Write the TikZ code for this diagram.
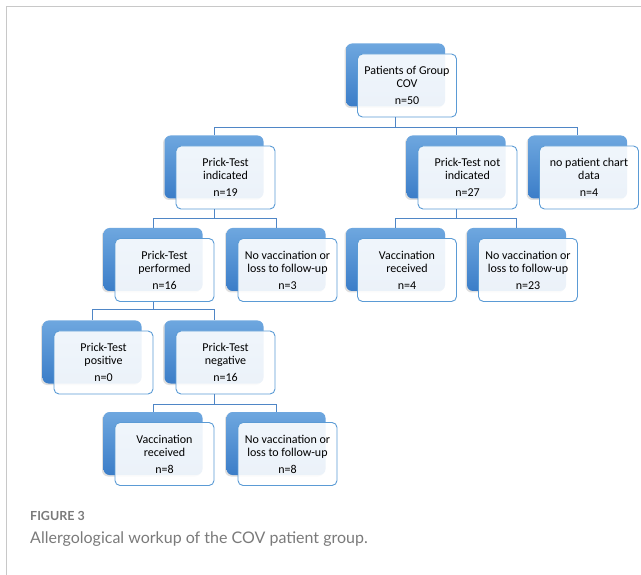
\documentclass[tikz,border=0pt]{standalone}
\usepackage{fontspec}
\setmainfont{Carlito}
\newfontfamily\capfont{Lato}
\usetikzlibrary{shadows}

\definecolor{boxblue}{HTML}{5B9BD5}
\definecolor{backtop}{HTML}{6EA7DF}
\definecolor{backbot}{HTML}{3B7DC8}
\definecolor{linkblue}{HTML}{4F86C6}
\definecolor{framegrey}{HTML}{C8C8C8}
\definecolor{capgrey}{HTML}{7A7A7A}

\tikzset{
  backbox/.style={rounded corners=6pt, minimum width=99pt, minimum height=63pt,
    top color=backtop, bottom color=backbot, draw=none,
    drop shadow={shadow xshift=-1.5pt, shadow yshift=-1.5pt, opacity=.25}},
  frontbox/.style={draw=boxblue, line width=0.9pt, rounded corners=5pt,
    minimum width=99pt, minimum height=63pt, fill=white, fill opacity=.9,
    text opacity=1, align=center, inner sep=2pt,
    font=\fontsize{12}{13}\selectfont},
  link/.style={draw=linkblue, line width=0.9pt}
}

% back box and front box, named #1b and #1
\newcommand{\flowbox}[4]{%
  \node[backbox] (#1b) at (#2-11.5,#3-10.5) {};
  \node[frontbox] (#1) at (#2,#3) {#4};
}

\begin{document}
\begin{tikzpicture}[x=1pt,y=-1pt]
  \useasboundingbox (0,0) rectangle (641,575);
  \draw[framegrey, line width=0.9pt] (6,575) -- (6,6) -- (641,6);

  % boxes
  \flowbox{root}{407}{85.5}{Patients of Group\\COV\\[4pt]n=50}
  \flowbox{pti}{225.5}{177.5}{Prick-Test\\indicated\\[4pt]n=19}
  \flowbox{ptni}{467.5}{177.5}{Prick-Test not\\indicated\\[4pt]n=27}
  \flowbox{chart}{589}{177.5}{no patient chart\\data\\[4pt]n=4}
  \flowbox{ptdone}{164.5}{270}{Prick-Test\\performed\\[4pt]n=16}
  \flowbox{novacA}{287.5}{270}{No vaccination or\\loss to follow-up\\[4pt]n=3}
  \flowbox{vacA}{407}{270}{Vaccination\\received\\[4pt]n=4}
  \flowbox{novacB}{528}{270}{No vaccination or\\loss to follow-up\\[4pt]n=23}
  \flowbox{ptpos}{103.5}{362.5}{Prick-Test\\positive\\[4pt]n=0}
  \flowbox{ptneg}{225.5}{362.5}{Prick-Test\\negative\\[4pt]n=16}
  \flowbox{vacB}{164.5}{454}{Vaccination\\received\\[4pt]n=8}
  \flowbox{novacC}{287.5}{454}{No vaccination or\\loss to follow-up\\[4pt]n=8}

  % connectors
  \foreach \c in {ptib,ptnib,chartb}
    \draw[link] (rootb.south |- root.south) -- ++(0,10) -| (\c.north);
  \foreach \c in {ptdoneb,novacAb}
    \draw[link] (ptib.south |- pti.south) -- ++(0,9) -| (\c.north);
  \foreach \c in {vacAb,novacBb}
    \draw[link] (ptnib.south |- ptni.south) -- ++(0,9) -| (\c.north);
  \foreach \c in {ptposb,ptnegb}
    \draw[link] (ptdoneb.south |- ptdone.south) -- ++(0,8) -| (\c.north);
  \foreach \c in {vacBb,novacCb}
    \draw[link] (ptnegb.south |- ptneg.south) -- ++(0,10) -| (\c.north);

  % caption
  \node[anchor=west, inner sep=0pt, text=capgrey,
    font=\capfont\bfseries\fontsize{12.5}{14}\selectfont] (fig) at (30,516) {FIGURE 3};
  \node[anchor=west, inner sep=0pt, text=capgrey,
    font=\capfont\fontsize{16}{18}\selectfont] (cap) at (30,539)
    {Allergological workup of the COV patient group.};
\end{tikzpicture}
\end{document}
